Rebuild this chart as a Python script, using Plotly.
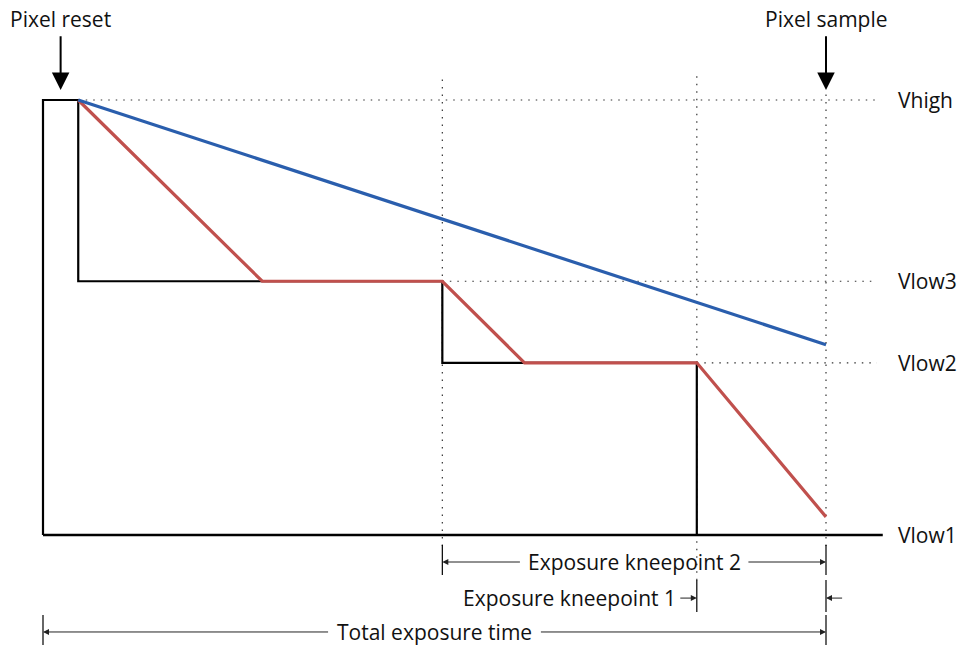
import plotly.graph_objects as go

# event times (ms) and voltage levels (V)
time_reset_start = 0.0
time_reset_end = 0.9
time_kneepoint2 = 10.2
time_kneepoint1 = 16.7
time_sample = 20.0

level_names = ["Vhigh", "Vlow3", "Vlow2", "Vlow1"]
level_values = [2.4, 1.4, 0.95, 0.0]

# weak-light pixel (blue) and strong-light pixel (red)
blue_t = [0.9, 20.0]
blue_v = [2.4, 1.05]
red_t = [0.9, 5.6, 10.2, 12.3, 16.7, 20.0]
red_v = [2.4, 1.4, 1.4, 0.95, 0.95, 0.1]

# barrier control signal (black)
ctrl_t = [0.0, 0.0, 0.9, 0.9, 10.2, 10.2, 16.7, 16.7]
ctrl_v = [0.0, 2.4, 2.4, 1.4, 1.4, 0.95, 0.95, 0.0]

FONT = "Open Sans"
TXT = 21
line_end = 21.3     # end of dotted level lines
label_x = 21.8      # level labels
base_end = 21.45

fig = go.Figure()

fig.add_trace(go.Scatter(x=ctrl_t, y=ctrl_v, mode="lines",
                         line=dict(color="black", width=2.2)))
fig.add_trace(go.Scatter(x=red_t, y=red_v, mode="lines",
                         line=dict(color="#C0504D", width=3.2)))
fig.add_trace(go.Scatter(x=blue_t, y=blue_v, mode="lines",
                         line=dict(color="#2A5EAD", width=3.2)))

shapes = []
dot = dict(color="#333333", width=1.2, dash="1.5px,6px")

# dotted level lines
starts = [time_reset_end, time_kneepoint2, time_kneepoint1]
for v, x0 in zip(level_values[:3], starts):
    shapes.append(dict(type="line", x0=x0, x1=line_end, y0=v, y1=v, line=dot, layer="below"))
# dotted vertical markers
for x, y0, y1 in [(time_kneepoint2, -0.06, 2.54), (time_kneepoint1, -0.25, 2.54),
                  (time_sample, -0.06, 2.44)]:
    shapes.append(dict(type="line", x0=x, x1=x, y0=y0, y1=y1, line=dot, layer="below"))
# baseline
shapes.append(dict(type="line", x0=time_reset_start, x1=base_end, y0=level_values[3],
                   y1=level_values[3], line=dict(color="black", width=2.4)))

# dimension rows
rows = [-0.149, -0.348, -0.535]
tick_ext = [(-0.055, -0.221), (-0.248, -0.425), (-0.441, -0.607)]
tick_pos = [[time_kneepoint2, time_sample], [time_kneepoint1, time_sample],
            [time_reset_start, time_sample]]
for (y0, y1), xs in zip(tick_ext, tick_pos):
    for x in xs:
        shapes.append(dict(type="line", x0=x, x1=x, y0=y0, y1=y1,
                           line=dict(color="black", width=1.2)))

ann = []
for name, v in zip(level_names, level_values):
    ann.append(dict(x=label_x, y=v, text=name, showarrow=False, xanchor="left",
                    yanchor="middle", font=dict(family=FONT, size=TXT, color="#111")))


def arrow(x_to, x_from, y, head=2, size=1.2, width=1.0, color="#222"):
    return dict(x=x_to, y=y, ax=x_from, ay=y, xref="x", yref="y", axref="x", ayref="y",
                text="", showarrow=True, arrowhead=head, arrowsize=size,
                arrowwidth=width, arrowcolor=color, standoff=0, startstandoff=0)


def label(x, y, text, anchor="center"):
    return dict(x=x, y=y, text=text, showarrow=False, xanchor=anchor, yanchor="middle",
                font=dict(family=FONT, size=TXT, color="#111"))


# Exposure kneepoint 2
mid2 = (time_kneepoint2 + time_sample) / 2
half2 = 2.88
ann += [arrow(time_kneepoint2, mid2 - half2, rows[0]),
        arrow(time_sample, mid2 + half2, rows[0]),
        label(mid2, rows[0], "Exposure kneepoint 2")]
# Exposure kneepoint 1
ann += [arrow(time_kneepoint1, time_kneepoint1 - 0.46, rows[1]),
        arrow(time_sample, time_sample + 0.45, rows[1]),
        label(time_kneepoint1 - 0.48, rows[1], "Exposure kneepoint 1", "right")]
# Total exposure time
mid3 = (time_reset_start + time_sample) / 2
half3 = 2.68
ann += [arrow(time_reset_start, mid3 - half3, rows[2]),
        arrow(time_sample, mid3 + half3, rows[2]),
        label(mid3, rows[2], "Total exposure time")]

# reset / sample markers
reset_x = (time_reset_start + time_reset_end) / 2
for x, txt in [(reset_x, "Pixel reset"), (time_sample, "Pixel sample")]:
    ann.append(arrow(x, x, 2.455, head=2, size=1.75, width=2, color="black"))
    ann[-1]["ay"] = 2.76
    ann.append(label(x, 2.845, txt))

px_t = 39.15
px_v = 181.25
fig.update_layout(
    width=957, height=645,
    margin=dict(l=0, r=0, t=0, b=0),
    paper_bgcolor="white", plot_bgcolor="white",
    showlegend=False,
    xaxis=dict(range=[-43 / px_t, 914 / px_t], visible=False, fixedrange=True),
    yaxis=dict(range=[-110 / px_v, 535 / px_v], visible=False, fixedrange=True),
    shapes=shapes,
    annotations=ann,
)

# drop the default 8px page margin so the figure fills the window
fig.write_html("out.html", config={"displayModeBar": False},
               post_script="document.body.style.margin='0';")
